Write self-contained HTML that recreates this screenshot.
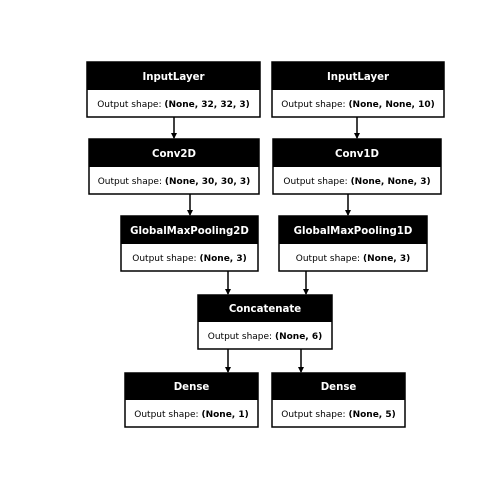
<!DOCTYPE html>
<html><head><style>body{margin:0;background:#fff}svg{display:block}</style></head><body>
<svg width="504" height="504" xmlns="http://www.w3.org/2000/svg" font-family="DejaVu Sans, sans-serif">
<defs><marker id="a" markerWidth="6" markerHeight="6" refX="5" refY="3" orient="auto" markerUnits="userSpaceOnUse"><path d="M0,0 L6,3 L0,6 z" fill="#000"/></marker></defs>
<g stroke="#000" stroke-width="1.5" fill="none">
<line x1="174" y1="117" x2="174" y2="138" marker-end="url(#a)"/>
<line x1="357" y1="117" x2="357" y2="138" marker-end="url(#a)"/>
<line x1="190" y1="194" x2="190" y2="215" marker-end="url(#a)"/>
<line x1="348" y1="194" x2="348" y2="215" marker-end="url(#a)"/>
<line x1="228" y1="271" x2="228" y2="294" marker-end="url(#a)"/>
<line x1="306" y1="271" x2="306" y2="294" marker-end="url(#a)"/>
<line x1="228" y1="349" x2="228" y2="372" marker-end="url(#a)"/>
<line x1="301" y1="349" x2="301" y2="372" marker-end="url(#a)"/>
</g>
<g font-size="9">
<rect x="87" y="62" width="173" height="55" fill="#fff" stroke="#000" stroke-width="1.5"/><rect x="87" y="62" width="173" height="28" fill="#000"/>
<text x="173.5" y="80" fill="#fff" font-weight="bold" font-size="10.2" text-anchor="middle">InputLayer</text>
<text x="173.5" y="107" text-anchor="middle">Output shape: <tspan font-weight="bold">(None, 32, 32, 3)</tspan></text>

<rect x="272" y="62" width="172" height="55" fill="#fff" stroke="#000" stroke-width="1.5"/><rect x="272" y="62" width="172" height="28" fill="#000"/>
<text x="358" y="80" fill="#fff" font-weight="bold" font-size="10.2" text-anchor="middle">InputLayer</text>
<text x="358" y="107" text-anchor="middle">Output shape: <tspan font-weight="bold">(None, None, 10)</tspan></text>

<rect x="89" y="139" width="170" height="55" fill="#fff" stroke="#000" stroke-width="1.5"/><rect x="89" y="139" width="170" height="28" fill="#000"/>
<text x="174" y="157" fill="#fff" font-weight="bold" font-size="10.2" text-anchor="middle">Conv2D</text>
<text x="174" y="184" text-anchor="middle">Output shape: <tspan font-weight="bold">(None, 30, 30, 3)</tspan></text>

<rect x="273" y="139" width="168" height="55" fill="#fff" stroke="#000" stroke-width="1.5"/><rect x="273" y="139" width="168" height="28" fill="#000"/>
<text x="357" y="157" fill="#fff" font-weight="bold" font-size="10.2" text-anchor="middle">Conv1D</text>
<text x="357" y="184" text-anchor="middle">Output shape: <tspan font-weight="bold">(None, None, 3)</tspan></text>

<rect x="121" y="216" width="137" height="55" fill="#fff" stroke="#000" stroke-width="1.5"/><rect x="121" y="216" width="137" height="28" fill="#000"/>
<text x="189.5" y="234" fill="#fff" font-weight="bold" font-size="10.2" text-anchor="middle">GlobalMaxPooling2D</text>
<text x="189.5" y="261" text-anchor="middle">Output shape: <tspan font-weight="bold">(None, 3)</tspan></text>

<rect x="279" y="216" width="148" height="55" fill="#fff" stroke="#000" stroke-width="1.5"/><rect x="279" y="216" width="148" height="28" fill="#000"/>
<text x="353" y="234" fill="#fff" font-weight="bold" font-size="10.2" text-anchor="middle">GlobalMaxPooling1D</text>
<text x="353" y="261" text-anchor="middle">Output shape: <tspan font-weight="bold">(None, 3)</tspan></text>

<rect x="198" y="295" width="134" height="54" fill="#fff" stroke="#000" stroke-width="1.5"/><rect x="198" y="295" width="134" height="27" fill="#000"/>
<text x="265" y="312" fill="#fff" font-weight="bold" font-size="10.2" text-anchor="middle">Concatenate</text>
<text x="265" y="339" text-anchor="middle">Output shape: <tspan font-weight="bold">(None, 6)</tspan></text>

<rect x="125" y="373" width="133" height="54" fill="#fff" stroke="#000" stroke-width="1.5"/><rect x="125" y="373" width="133" height="27" fill="#000"/>
<text x="191.5" y="390" fill="#fff" font-weight="bold" font-size="10.2" text-anchor="middle">Dense</text>
<text x="191.5" y="417" text-anchor="middle">Output shape: <tspan font-weight="bold">(None, 1)</tspan></text>

<rect x="272" y="373" width="133" height="54" fill="#fff" stroke="#000" stroke-width="1.5"/><rect x="272" y="373" width="133" height="27" fill="#000"/>
<text x="338.5" y="390" fill="#fff" font-weight="bold" font-size="10.2" text-anchor="middle">Dense</text>
<text x="338.5" y="417" text-anchor="middle">Output shape: <tspan font-weight="bold">(None, 5)</tspan></text>
</g>
</svg>
</body></html>
